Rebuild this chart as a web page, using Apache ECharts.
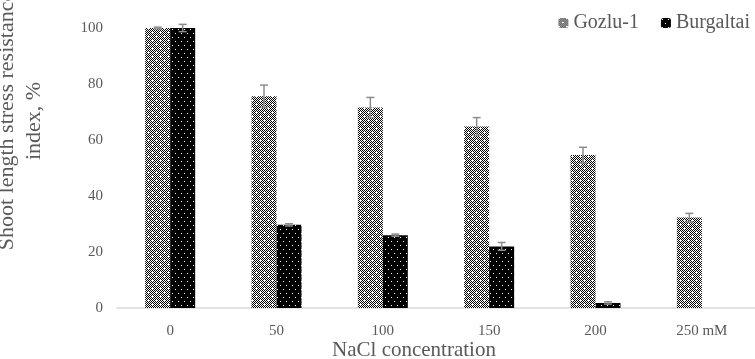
<!DOCTYPE html>
<html>
<head>
<meta charset="utf-8">
<script src="https://cdn.jsdelivr.net/npm/echarts@6/dist/echarts.min.js"></script>
<style>
  html, body { margin: 0; padding: 0; background: #fff; }
  #chart { width: 755px; height: 359px; }
</style>
</head>
<body>
<div id="chart"></div>
<script>
const categories = ['0', '50', '100', '150', '200', '250 mM']
const gozluValues = [100, 75.6, 71.6, 64.8, 54.6, 32.3]
const gozluErrors = [0.3, 4.0, 3.6, 3.2, 2.8, 1.5]
const burgValues = [100, 29.7, 26.0, 22.0, 1.8, 0]
const burgErrors = [1.3, 0.4, 0.4, 1.4, 0.4, 0]
const yTicks = [0, 20, 40, 60, 80, 100]

// little tile patterns, like the excel fills
function makePattern(size, draw) {
  let c = document.createElement('canvas')
  c.width = size[0]
  c.height = size[1]
  let ctx = c.getContext('2d')
  draw(ctx)
  return c
}

// checker with white crosses (Gozlu-1)
const checkerTile = makePattern([8, 8], (ctx) => {
  ctx.fillStyle = '#fff'
  ctx.fillRect(0, 0, 8, 8)
  ctx.fillStyle = '#000'
  for (let x = 0; x < 8; x++) {
    for (let y = 0; y < 8; y++) {
      let hole = (x === 0 && y === 0) || (x === 4 && y === 4)
      if ((x + y) % 2 === 0 && !hole) ctx.fillRect(x, y, 1, 1)
    }
  }
})

// black with staggered white dots (Burgaltai)
const dotTile = makePattern([6, 8], (ctx) => {
  ctx.fillStyle = '#000'
  ctx.fillRect(0, 0, 6, 8)
  ctx.fillStyle = '#fff'
  ctx.fillRect(1, 1, 1, 1)
  ctx.fillRect(4, 5, 1, 1)
})

const barFrac = 0.235

function errorSeries(name, values, errors, side) {
  return {
    name: name,
    type: 'custom',
    silent: true,
    z: 5,
    data: values.map((v, i) => [i, v, errors[i]]),
    renderItem: (params, api) => {
      let i = api.value(0)
      let v = api.value(1)
      let e = api.value(2)
      if (!v) return
      let band = api.size([1, 0])[0]
      let x = api.coord([i, v])[0] + side * band * barFrac / 2
      let top = api.coord([i, v + e])[1]
      let bot = api.coord([i, v - e])[1]
      let style = { stroke: '#8c8c8c', lineWidth: 1.5 }
      return {
        type: 'group',
        children: [
          { type: 'line', shape: { x1: x, y1: top, x2: x, y2: bot }, style: style },
          { type: 'line', shape: { x1: x - 4, y1: top, x2: x + 4, y2: top }, style: style },
          { type: 'line', shape: { x1: x - 4, y1: bot, x2: x + 4, y2: bot }, style: style },
        ],
      }
    },
  }
}

let myChart = echarts.init(document.getElementById('chart'))
let option = {
  animation: false,
  textStyle: { fontFamily: 'Liberation Serif' },
  legend: {
    data: ['Gozlu-1', 'Burgaltai'],
    right: 0,
    top: 8,
    itemWidth: 10,
    itemHeight: 10,
    itemGap: 22,
    textStyle: { color: '#595959', fontSize: 20, fontFamily: 'Liberation Serif' },
  },
  grid: {
    left: 117,
    top: 28,
    width: 664,
    height: 280,
  },
  xAxis: {
    type: 'category',
    data: categories,
    axisLine: { lineStyle: { color: '#d9d9d9', width: 1.5 } },
    axisTick: { show: false },
    axisLabel: {
      color: '#595959',
      fontSize: 15,
      margin: 16,
      fontFamily: 'Liberation Serif',
    },
  },
  yAxis: {
    type: 'value',
    min: 0,
    max: 100,
    interval: 20,
    axisLine: { show: false },
    axisTick: { show: false },
    splitLine: { show: false },
    axisLabel: {
      color: '#595959',
      fontSize: 15,
      margin: 14,
      fontFamily: 'Liberation Serif',
      formatter: (v) => (yTicks.indexOf(v) >= 0 ? String(v) : ''),
    },
  },
  series: [
    {
      name: 'Gozlu-1',
      type: 'bar',
      barWidth: barFrac * 100 + '%',
      barGap: 0,
      itemStyle: { color: { image: checkerTile, repeat: 'repeat' } },
      data: gozluValues,
    },
    {
      name: 'Burgaltai',
      type: 'bar',
      barWidth: barFrac * 100 + '%',
      barGap: 0,
      itemStyle: { color: { image: dotTile, repeat: 'repeat' } },
      data: burgValues,
    },
    errorSeries('gozluErr', gozluValues, gozluErrors, -1),
    errorSeries('burgErr', burgValues, burgErrors, 1),
  ],
  graphic: [
    {
      type: 'text',
      x: 21,
      y: 121,
      rotation: Math.PI / 2,
      style: {
        text: 'Shoot length stress resistance\nindex, %',
        fill: '#595959',
        font: '22px "Liberation Serif"',
        align: 'center',
        verticalAlign: 'middle',
        lineHeight: 27,
      },
    },
    {
      type: 'text',
      x: 414,
      y: 350,
      style: {
        text: 'NaCl concentration',
        fill: '#595959',
        font: '21px "Liberation Serif"',
        align: 'center',
        verticalAlign: 'middle',
      },
    },
  ],
}
myChart.setOption(option, true)
</script>
</body>
</html>
